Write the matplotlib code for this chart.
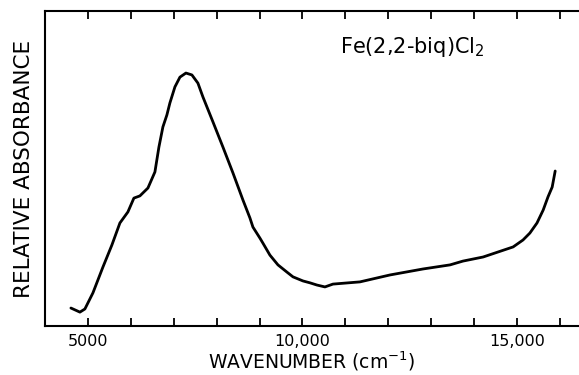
import matplotlib
matplotlib.use("Agg")
import matplotlib.pyplot as plt
from matplotlib.ticker import FixedLocator, MultipleLocator

# spectrum
wavenumber = [4604, 4814, 4930, 5117, 5350, 5559, 5746, 5932, 6072, 6212,
              6399, 6562, 6655, 6748, 6841, 6911, 7028, 7145, 7284, 7424,
              7564, 7681, 7914, 8147, 8380, 8613, 8776, 8846, 9009, 9079,
              9242, 9429, 9639, 9779, 10012, 10175, 10338, 10524, 10711, 11340,
              12040, 12810, 13440, 13740, 14210, 14910, 15140, 15300, 15466, 15610,
              15723, 15820, 15890]
absorbance = [0.057, 0.044, 0.054, 0.105, 0.187, 0.257, 0.327, 0.362, 0.406, 0.413,
              0.438, 0.489, 0.568, 0.632, 0.670, 0.708, 0.759, 0.790, 0.803, 0.797,
              0.771, 0.727, 0.648, 0.568, 0.486, 0.400, 0.343, 0.314, 0.279, 0.263,
              0.225, 0.194, 0.171, 0.156, 0.143, 0.137, 0.130, 0.124, 0.133, 0.140,
              0.162, 0.181, 0.194, 0.206, 0.219, 0.251, 0.273, 0.295, 0.327, 0.368,
              0.410, 0.441, 0.492]

major_ticks = [5000, 10000, 15000]
tick_labels = ["5000", "10,000", "15,000"]

plt.rcParams['font.family'] = ['DejaVu Sans']

fig = plt.figure(figsize=(5.79, 3.75), dpi=100)
ax = fig.add_axes([0.0777, 0.1307, 0.9223, 0.84])

ax.plot(wavenumber, absorbance, color='black', lw=2.0,
        solid_capstyle='round', solid_joinstyle='round')

ax.set_xlim(4000, 16445)
ax.set_ylim(0, 1)

ax.xaxis.set_major_locator(FixedLocator(major_ticks))
ax.set_xticklabels(tick_labels, fontsize=11.5)
ax.xaxis.set_minor_locator(MultipleLocator(1000))
ax.tick_params(axis='x', which='both', direction='in', top=True, bottom=True,
               length=6, width=1.3, pad=6)
ax.set_yticks([])

ax.spines['right'].set_visible(False)
for s in ['left', 'top', 'bottom']:
    ax.spines[s].set_linewidth(1.5)

ax.set_xlabel("WAVENUMBER (cm$^{-1}$)", fontsize=13.5, labelpad=0)
ax.set_ylabel("RELATIVE ABSORBANCE", fontsize=15.5, labelpad=8)

ax.text(0.553, 0.885, "Fe(2,2-biq)Cl$_2$", transform=ax.transAxes, fontsize=15,
        ha='left', va='center')

fig.savefig("out.png", dpi=100)
